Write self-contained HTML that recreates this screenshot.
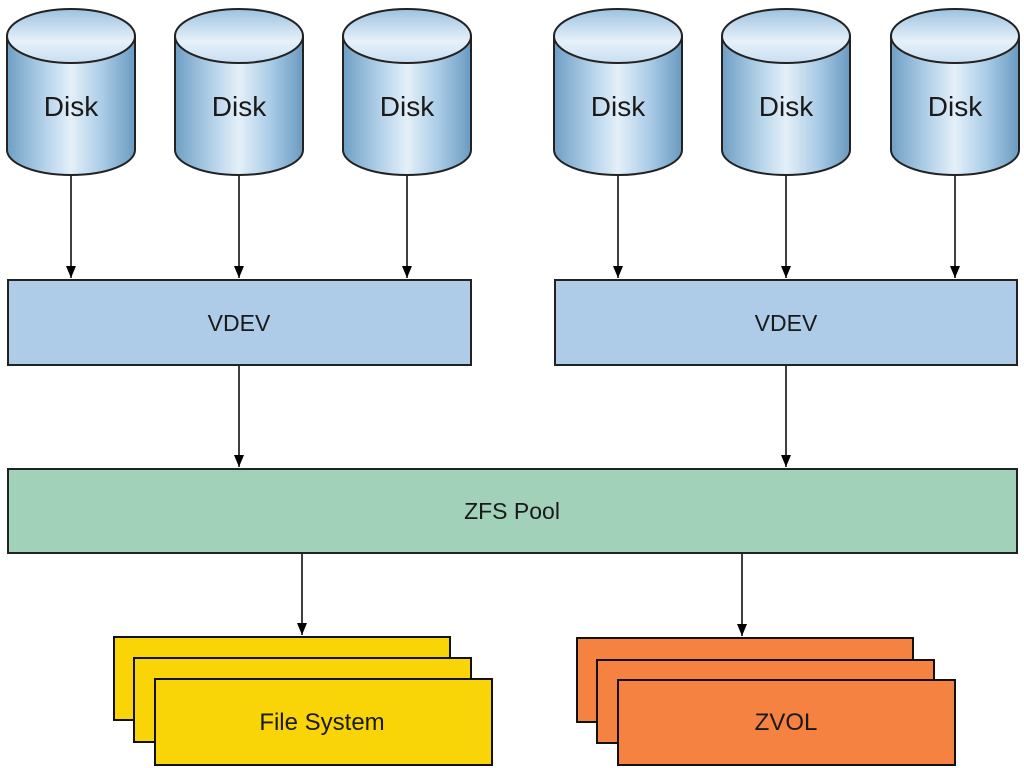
<!DOCTYPE html>
<html><head><meta charset="utf-8"><style>
html,body{margin:0;padding:0;background:#fff;}
svg{display:block}
text{font-family:"Liberation Sans",sans-serif;}
</style></head><body>
<svg width="1024" height="768" viewBox="0 0 1024 768" xmlns="http://www.w3.org/2000/svg">
<defs>
<linearGradient id="body" x1="0" x2="1" y1="0" y2="0">
<stop offset="0" stop-color="#6f9fc4"/>
<stop offset="0.3" stop-color="#b5d3ea"/>
<stop offset="0.5" stop-color="#e4f0f9"/>
<stop offset="0.75" stop-color="#a9cbe6"/>
<stop offset="1" stop-color="#6a9ac0"/>
</linearGradient>
<linearGradient id="top" x1="0" x2="0" y1="0" y2="1">
<stop offset="0" stop-color="#9cc2e0"/>
<stop offset="0.6" stop-color="#e6f1fa"/>
<stop offset="1" stop-color="#c8def0"/>
</linearGradient>
<g id="disk">
<path d="M0,28 L0,142 A64,25 0 0 0 128,142 L128,28 Z" fill="url(#body)" stroke="#222" stroke-width="2"/>
<ellipse cx="64" cy="28" rx="64" ry="27" fill="url(#top)" stroke="#222" stroke-width="2"/>
<text x="64" y="108" text-anchor="middle" font-size="28" fill="#1a1a1a">Disk</text>
</g>
<marker id="ah" markerWidth="13" markerHeight="11" refX="12" refY="5" orient="auto" markerUnits="userSpaceOnUse">
<path d="M0,0 L12,5 L0,10 Z" fill="#000"/>
</marker>
</defs>
<use href="#disk" x="7" y="8"/>
<use href="#disk" x="175" y="8"/>
<use href="#disk" x="343" y="8"/>
<use href="#disk" x="554" y="8"/>
<use href="#disk" x="722" y="8"/>
<use href="#disk" x="891" y="8"/>
<g stroke="#000" stroke-width="1.5" marker-end="url(#ah)">
<line x1="71" y1="176" x2="71" y2="278"/>
<line x1="239" y1="176" x2="239" y2="278"/>
<line x1="407" y1="176" x2="407" y2="278"/>
<line x1="618" y1="176" x2="618" y2="278"/>
<line x1="786" y1="176" x2="786" y2="278"/>
<line x1="955" y1="176" x2="955" y2="278"/>
<line x1="239" y1="366" x2="239" y2="467"/>
<line x1="786" y1="366" x2="786" y2="467"/>
<line x1="302" y1="554" x2="302" y2="635"/>
<line x1="742" y1="554" x2="742" y2="636"/>
</g>
<rect x="8" y="280" width="463" height="85" fill="#aecbe8" stroke="#222" stroke-width="2"/>
<text x="239" y="331" text-anchor="middle" font-size="23" fill="#1a1a1a">VDEV</text>
<rect x="555" y="280" width="462" height="85" fill="#aecbe8" stroke="#222" stroke-width="2"/>
<text x="786" y="331" text-anchor="middle" font-size="23" fill="#1a1a1a">VDEV</text>
<rect x="8" y="469" width="1009" height="84" fill="#a2d1b9" stroke="#222" stroke-width="2"/>
<text x="512" y="519" text-anchor="middle" font-size="23" fill="#1a1a1a">ZFS Pool</text>
<g fill="#f9d508" stroke="#111" stroke-width="2">
<rect x="114" y="637" width="336" height="83"/>
<rect x="134" y="658" width="337" height="84"/>
<rect x="155" y="679" width="337" height="86"/>
</g>
<text x="322" y="730" text-anchor="middle" font-size="24" fill="#1a1a1a">File System</text>
<g fill="#f58241" stroke="#111" stroke-width="2">
<rect x="577" y="638" width="336" height="84"/>
<rect x="597" y="660" width="337" height="83"/>
<rect x="618" y="680" width="337" height="85"/>
</g>
<text x="786" y="730" text-anchor="middle" font-size="24" fill="#1a1a1a">ZVOL</text>
</svg>
</body></html>
